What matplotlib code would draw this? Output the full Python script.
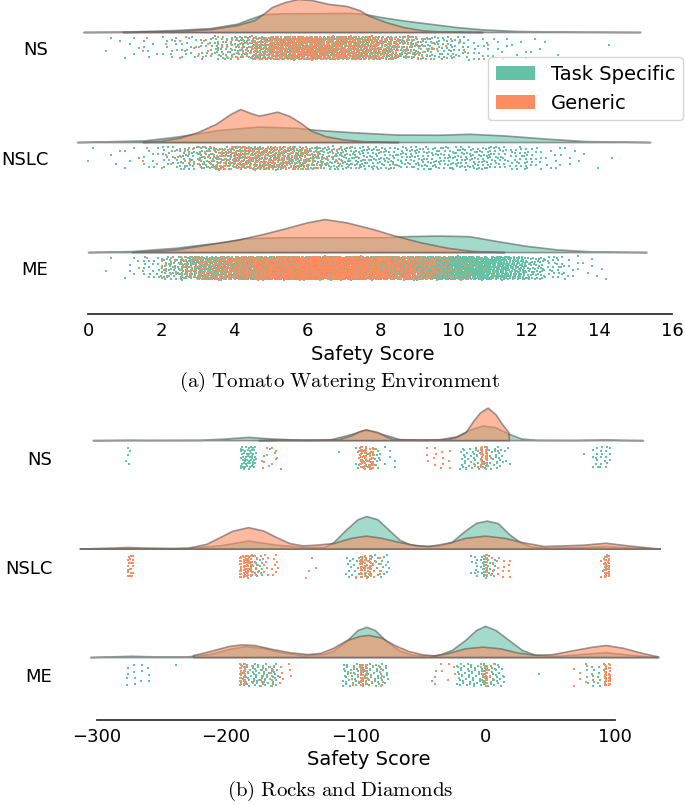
import numpy as np
import matplotlib
matplotlib.use("Agg")
import matplotlib.pyplot as plt
from matplotlib.patches import Patch

plt.rcParams["mathtext.fontset"] = "cm"

TASK_COLOR = "#66c2a5"
GENERIC_COLOR = "#fc8d62"
GROUPS = ["NS", "NSLC", "ME"]
HUES = ["Task Specific", "Generic"]

# ── (a) Tomato Watering: cloud outlines, (score, relative density) ──────────
TW_NS_TASK_CLOUD = [(-0.13, 0), (0.95, 0.01), (2.4, 0.06), (3.36, 0.12), (4.08, 0.25),
                    (4.44, 0.40), (4.8, 0.54), (5.4, 0.57), (6.24, 0.57), (7.2, 0.58),
                    (7.56, 0.55), (8.04, 0.45), (8.64, 0.35), (9.37, 0.25), (10.09, 0.15),
                    (10.81, 0.08), (11.77, 0.03), (13.21, 0.01), (15.13, 0)]
TW_NS_GENERIC_CLOUD = [(0.95, 0), (2.4, 0.03), (3.36, 0.09), (4.08, 0.21), (4.56, 0.36),
                       (4.8, 0.55), (5.04, 0.76), (5.4, 0.91), (5.76, 1.0), (6.12, 0.97),
                       (6.6, 0.85), (7.08, 0.79), (7.44, 0.66), (7.68, 0.5), (8.16, 0.3),
                       (8.64, 0.15), (9.12, 0.06), (9.6, 0.015), (10.8, 0)]
TW_NSLC_TASK_CLOUD = [(-0.3, 0), (1.55, 0.05), (2.46, 0.17), (3.6, 0.37), (4.68, 0.47),
                      (5.76, 0.43), (6.24, 0.37), (7.2, 0.3), (8.4, 0.23), (9.6, 0.22),
                      (10.45, 0.25), (11.4, 0.2), (12.6, 0.1), (13.6, 0.03), (15.4, 0)]
TW_NSLC_GENERIC_CLOUD = [(1.5, 0), (2.0, 0.04), (2.5, 0.13), (3.0, 0.3), (3.5, 0.55),
                         (3.9, 0.85), (4.17, 1.0), (4.45, 0.88), (4.68, 0.8), (4.9, 0.85),
                         (5.18, 0.92), (5.5, 0.8), (5.8, 0.6), (6.1, 0.35), (6.5, 0.18),
                         (7.0, 0.08), (7.6, 0.02), (8.5, 0)]
TW_ME_TASK_CLOUD = [(0.0, 0), (1.2, 0.03), (2.4, 0.13), (3.6, 0.29), (4.32, 0.42),
                    (5.28, 0.45), (6.48, 0.45), (8.16, 0.45), (8.65, 0.48), (9.6, 0.5),
                    (10.45, 0.48), (11.17, 0.34), (12.0, 0.19), (12.85, 0.08),
                    (13.8, 0.02), (15.3, 0)]
TW_ME_GENERIC_CLOUD = [(1.2, 0), (2.4, 0.08), (4.08, 0.37), (4.8, 0.55), (5.4, 0.72),
                       (6.0, 0.9), (6.48, 1.0), (7.08, 0.9), (7.8, 0.7), (8.4, 0.5),
                       (9.13, 0.29), (9.85, 0.13), (10.57, 0.03), (11.4, 0)]

# (a) rain: number of runs per 0.5-wide score bin, bins from 0 to 15
TW_BIN_EDGES = np.arange(0, 15.5, 0.5)
TW_NS_TASK_RAIN = [0, 3, 5, 6, 10, 13, 19, 29, 48, 77, 88, 90, 90, 90, 88,
                   80, 67, 54, 42, 29, 19, 13, 8, 5, 3, 2, 0, 0, 1, 0]
TW_NS_GENERIC_RAIN = [0, 0, 0, 2, 3, 5, 8, 13, 22, 48, 80, 99, 96, 83, 77,
                      67, 48, 26, 13, 6, 3, 2, 0, 0, 0, 0, 0, 0, 0, 0]
TW_NSLC_TASK_RAIN = [2, 3, 5, 10, 19, 32, 45, 54, 61, 64, 64, 61, 54, 48, 43,
                     38, 35, 34, 34, 35, 37, 37, 32, 26, 18, 10, 5, 2, 1, 0]
TW_NSLC_GENERIC_RAIN = [0, 0, 0, 2, 5, 10, 19, 35, 51, 48, 48, 38, 22, 11, 5,
                        2, 1, 0, 0, 0, 0, 0, 0, 0, 0, 0, 0, 0, 0, 0]
TW_ME_TASK_RAIN = [0, 2, 7, 18, 40, 72, 108, 135, 162, 173, 176, 176, 176, 176, 176,
                   176, 180, 187, 194, 198, 194, 171, 130, 86, 50, 27, 11, 5, 2, 0]
TW_ME_GENERIC_RAIN = [0, 0, 0, 2, 12, 30, 48, 66, 88, 110, 130, 150, 165, 170, 160,
                      140, 115, 90, 62, 35, 14, 4, 1, 0, 0, 0, 0, 0, 0, 0]

# ── (b) Rocks and Diamonds: cloud outlines ────────────────────────────────
RD_NS_TASK_CLOUD = [(-303, 0), (-285, 0.005), (-276, 0.01), (-260, 0.005), (-220, 0.01),
                    (-200, 0.05), (-183, 0.1), (-165, 0.05), (-140, 0.01), (-120, 0.02),
                    (-107, 0.15), (-92, 0.32), (-76, 0.15), (-66, 0.03), (-50, 0.01),
                    (-36, 0.02), (-22, 0.12), (-12, 0.32), (-2, 0.45), (8, 0.4), (18, 0.2),
                    (28, 0.05), (39, 0.01), (70, 0.005), (93, 0.02), (110, 0.005), (122, 0)]
RD_NS_GENERIC_CLOUD = [(-175, 0), (-160, 0.01), (-130, 0.01), (-114, 0.02), (-103, 0.15),
                       (-97, 0.28), (-92, 0.33), (-83, 0.25), (-76, 0.1), (-70, 0.02),
                       (-50, 0.02), (-29, 0.03), (-22, 0.1), (-15, 0.25), (-9, 0.6),
                       (-4, 0.85), (2, 1.0), (8, 0.8), (13, 0.5), (18, 0.25), (18.5, 0)]
RD_NSLC_TASK_CLOUD = [(-313, 0), (-276, 0.01), (-230, 0.02), (-205, 0.1), (-183, 0.25),
                      (-161, 0.12), (-140, 0.05), (-124, 0.05), (-117, 0.2), (-107, 0.6),
                      (-98.5, 0.9), (-91.7, 1.0), (-83, 0.9), (-75, 0.6), (-66, 0.27),
                      (-58, 0.13), (-46, 0.08), (-35, 0.1), (-26, 0.2), (-15.5, 0.55),
                      (-7, 0.79), (1.4, 0.86), (10, 0.78), (18.4, 0.45), (27, 0.2),
                      (35, 0.07), (50, 0.03), (76, 0.05), (93, 0.08), (110, 0.04), (135, 0)]
RD_NSLC_GENERIC_CLOUD = [(-313, 0), (-290, 0.03), (-276, 0.05), (-262, 0.03), (-240, 0.01),
                         (-229, 0.03), (-215, 0.15), (-205, 0.35), (-195, 0.55), (-183, 0.66),
                         (-171, 0.55), (-161, 0.35), (-151, 0.17), (-141, 0.1), (-131, 0.12),
                         (-117, 0.17), (-103.5, 0.33), (-92, 0.4), (-80, 0.33), (-66, 0.2),
                         (-53, 0.1), (-43, 0.08), (-26, 0.2), (-15.5, 0.33), (0, 0.4),
                         (15, 0.33), (28.5, 0.2), (45.5, 0.08), (62, 0.1), (76, 0.12),
                         (93, 0.18), (110, 0.1), (127, 0.03), (135, 0)]
RD_ME_TASK_CLOUD = [(-305, 0), (-290, 0.02), (-273, 0.04), (-255, 0.02), (-230, 0.02),
                    (-212, 0.1), (-198, 0.25), (-185, 0.34), (-171, 0.28), (-158, 0.15),
                    (-141, 0.06), (-124, 0.1), (-117, 0.2), (-107, 0.5), (-98.5, 0.83),
                    (-91.7, 0.93), (-85, 0.83), (-76.5, 0.5), (-66, 0.2), (-56, 0.07),
                    (-42.6, 0.04), (-35, 0.08), (-25.7, 0.22), (-15.5, 0.52), (-7, 0.83),
                    (0, 0.96), (8.2, 0.83), (18.4, 0.52), (28.5, 0.22), (38.7, 0.07),
                    (55, 0.04), (76, 0.1), (93, 0.15), (110, 0.08), (130, 0.01), (133, 0)]
RD_ME_GENERIC_CLOUD = [(-225.5, 0), (-225.5, 0.06), (-212, 0.19), (-198, 0.34), (-188, 0.39),
                       (-178, 0.37), (-164.5, 0.25), (-151, 0.15), (-137, 0.09), (-127, 0.13),
                       (-117, 0.29), (-107, 0.52), (-97, 0.65), (-90, 0.68), (-80, 0.6),
                       (-70, 0.37), (-59.5, 0.19), (-49, 0.09), (-39, 0.05), (-29, 0.12),
                       (-15.5, 0.27), (-2, 0.32), (11.6, 0.27), (25, 0.14), (38.7, 0.07),
                       (52, 0.09), (69, 0.22), (83, 0.32), (93, 0.37), (106, 0.29),
                       (120, 0.14), (133.5, 0.02), (134, 0)]

# (b) rain: (low, high, number of runs) score ranges
RD_NS_TASK_RAIN = [(-277, -273, 5), (-189, -177, 55), (-172, -154, 7), (-115, -112, 1),
                   (-100, -82, 40), (-82, -66, 8), (-20, 14, 70), (14, 20, 4),
                   (75, 77, 1), (83, 97, 24)]
RD_NS_GENERIC_RAIN = [(-172, -158, 8), (-98, -84, 12), (-96, -95, 20), (-93, -92, 16),
                      (-89, -88, 16), (-87, -86, 12), (-49, -26, 14), (-9, 5, 8),
                      (-3, -2, 20), (0.5, 1.5, 22)]
RD_NSLC_TASK_RAIN = [(-186, -170, 32), (-108, -74, 48), (-11, 8, 34), (-1, 0, 14),
                     (90, 95, 4)]
RD_NSLC_GENERIC_RAIN = [(-276, -271, 20), (-190, -160, 35), (-189, -188, 22),
                        (-186.5, -185.5, 22), (-184, -183, 20), (-181, -180, 16),
                        (-140, -130, 4), (-100, -80, 18), (-96, -95, 20), (-93, -92, 16),
                        (-89, -88, 16), (0.5, 1.5, 22), (3, 20, 16), (88, 96, 8),
                        (92.5, 93.5, 20), (95, 96, 20)]
RD_ME_TASK_RAIN = [(-277, -255, 14), (-240, -238, 1), (-189, -160, 80), (-110, -75, 85),
                   (-95, -94, 16), (-42, -38, 2), (-22, 15, 85), (-1, 0, 16),
                   (38, 42, 1), (78, 97, 22)]
RD_ME_GENERIC_RAIN = [(-189, -188, 22), (-186, -185, 20), (-180, -150, 20),
                      (-105, -75, 14), (-96, -95, 22), (-92, -91, 16), (-40, -20, 8),
                      (-4, 8, 10), (0.5, 1.5, 22), (68, 88, 8), (92.5, 93.5, 22),
                      (95.5, 96.5, 20)]


def bins_from_counts(edges, counts):
    return [(lo, hi, n) for lo, hi, n in zip(edges[:-1], edges[1:], counts)]


def rain_positions(ranges):
    """Spread each range's runs over the range and the jitter band (R2 sequence)."""
    xs, ys = [], []
    k = 0
    for lo, hi, n in ranges:
        for _ in range(n):
            k += 1
            xs.append(lo + (hi - lo) * ((k * 0.7548776662 + 0.5) % 1.0))
            ys.append((k * 0.5698402910 + 0.5) % 1.0 - 0.5)
    return np.array(xs), np.array(ys)


def draw_cloud(ax, pts, y, color, base_off, height):
    x = [p[0] for p in pts]
    h = np.array([p[1] for p in pts])
    base = y - base_off
    ax.fill_between(x, base, base - h * height, facecolor=color, alpha=0.6,
                    edgecolor="#595959", linewidth=1.2, zorder=2)


def draw_panel(ax, clouds, rains, base_off):
    for i in range(len(GROUPS)):
        task_cloud, gen_cloud = clouds[i]
        draw_cloud(ax, task_cloud, i, TASK_COLOR, base_off, 0.30)
        draw_cloud(ax, gen_cloud, i, GENERIC_COLOR, base_off, 0.30)
        for ranges, color in zip(rains[i], [TASK_COLOR, GENERIC_COLOR]):
            xs, js = rain_positions(ranges)
            ax.scatter(xs, i + js * 0.21, s=0.55, marker="s", color=color,
                       linewidths=0, zorder=3)
    ax.set_yticks(range(len(GROUPS)))
    ax.set_yticklabels(GROUPS, fontsize=13)
    ax.tick_params(axis="y", length=0, pad=18)
    ax.tick_params(axis="x", length=0, pad=6, labelsize=13)
    for side in ["top", "right", "left"]:
        ax.spines[side].set_visible(False)
    ax.spines["bottom"].set_linewidth(1.3)
    ax.spines["bottom"].set_color("#333333")
    ax.set_xlabel("Safety Score", fontsize=14, labelpad=3)


fig = plt.figure(figsize=(6.85, 8.05), dpi=100)

# (a)
ax_a = fig.add_axes([0.1072, 0.6099, 0.8739, 0.3901])
clouds_a = [(TW_NS_TASK_CLOUD, TW_NS_GENERIC_CLOUD),
            (TW_NSLC_TASK_CLOUD, TW_NSLC_GENERIC_CLOUD),
            (TW_ME_TASK_CLOUD, TW_ME_GENERIC_CLOUD)]
rains_a = [(bins_from_counts(TW_BIN_EDGES, TW_NS_TASK_RAIN),
            bins_from_counts(TW_BIN_EDGES, TW_NS_GENERIC_RAIN)),
           (bins_from_counts(TW_BIN_EDGES, TW_NSLC_TASK_RAIN),
            bins_from_counts(TW_BIN_EDGES, TW_NSLC_GENERIC_RAIN)),
           (bins_from_counts(TW_BIN_EDGES, TW_ME_TASK_RAIN),
            bins_from_counts(TW_BIN_EDGES, TW_ME_GENERIC_RAIN))]
draw_panel(ax_a, clouds_a, rains_a, 0.145)
ax_a.set_xlim(-0.4, 16)
ax_a.set_ylim(2.418, -0.436)
ax_a.set_xticks(range(0, 17, 2))
ax_a.spines["bottom"].set_bounds(0, 16)

# (b)
ax_b = fig.add_axes([0.1126, 0.1056, 0.8507, 0.4037])
clouds_b = [(RD_NS_TASK_CLOUD, RD_NS_GENERIC_CLOUD),
            (RD_NSLC_TASK_CLOUD, RD_NSLC_GENERIC_CLOUD),
            (RD_ME_TASK_CLOUD, RD_ME_GENERIC_CLOUD)]
rains_b = [(RD_NS_TASK_RAIN, RD_NS_GENERIC_RAIN),
           (RD_NSLC_TASK_RAIN, RD_NSLC_GENERIC_RAIN),
           (RD_ME_TASK_RAIN, RD_ME_GENERIC_RAIN)]
draw_panel(ax_b, clouds_b, rains_b, 0.165)
ax_b.set_xlim(-315, 135)
ax_b.set_ylim(2.415, -0.581)
ax_b.set_xticks([-300, -200, -100, 0, 100])
ax_b.spines["bottom"].set_bounds(-300, 100)

handles = [Patch(facecolor=TASK_COLOR, label=HUES[0]),
           Patch(facecolor=GENERIC_COLOR, label=HUES[1])]
fig.legend(handles=handles, loc="upper right", bbox_to_anchor=(0.997, 0.929),
           fontsize=14, borderaxespad=0)

fig.text(0.496, 0.5255, r"$\mathrm{(a)\ Tomato\ Watering\ Environment}$",
         ha="center", va="center", fontsize=15)
fig.text(0.496, 0.018, r"$\mathrm{(b)\ Rocks\ and\ Diamonds}$",
         ha="center", va="center", fontsize=15)

fig.savefig("out.png", dpi=100)
